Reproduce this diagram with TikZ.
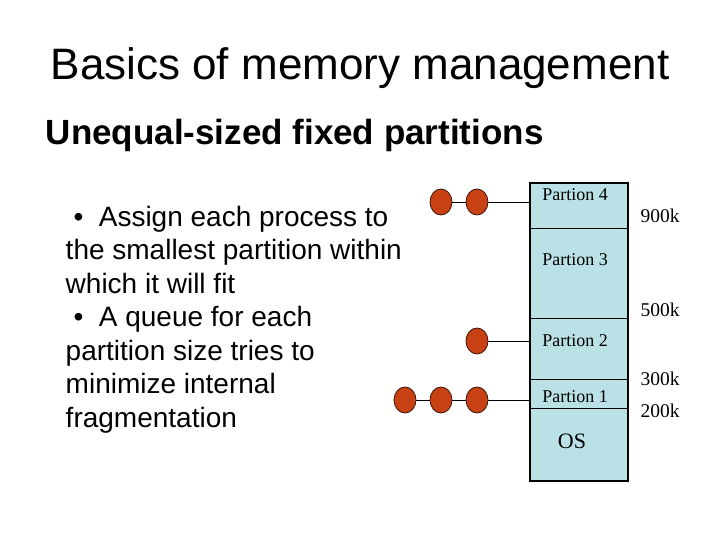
\documentclass[tikz,border=0pt]{standalone}
\usepackage{fontspec}
\setmainfont{Liberation Sans}
\newfontfamily\serif{Liberation Serif}
\usetikzlibrary{positioning,shapes.geometric}
\definecolor{memfill}{RGB}{185,225,230}
\definecolor{procred}{RGB}{200,65,20}

\begin{document}
\begin{tikzpicture}[x=1pt,y=-1pt,thick]
\tikzstyle{proc}=[ellipse,fill=procred,draw=black!70!procred,thick,minimum width=22pt,minimum height=26pt,inner sep=0pt]
\tikzstyle{part}=[font=\serif\fontsize{18}{18}\selectfont]
\tikzstyle{addr}=[font=\serif\fontsize{19.5}{19.5}\selectfont]

\useasboundingbox (0,0) rectangle (720,540);

\node at (360,68) {\fontsize{44}{44}\selectfont Basics of memory management};
\node[anchor=west] at (42,135) {\fontsize{35}{35}\selectfont\bfseries Unequal-sized fixed partitions};
\node[anchor=north west,align=left,font=\fontsize{28}{33.5}\selectfont] at (62,202)
  {\ \textbullet\ \ Assign each process to\\the smallest partition within\\which it will fit\\
   \ \textbullet\ \ A queue for each\\partition size tries to\\minimize internal\\fragmentation};

% memory
\draw[very thick,fill=memfill] (530,183) rectangle (628,481);
\foreach \y in {228,318,379,408} \draw (530,\y) -- (628,\y);
\node[part] (p4) at (575,195) {Partion 4};
\node[part] (p3) at (575,260) {Partion 3};
\node[part] (p2) at (575,341) {Partion 2};
\node[part] (p1) at (575,397) {Partion 1};
\node[font=\serif\fontsize{22}{22}\selectfont] (os) at (572,441) {OS};
\node[addr] at (660,216) {900k};
\node[addr] at (660,310) {500k};
\node[addr] at (660,379) {300k};
\node[addr] at (660,411) {200k};

% queues
\coordinate (q4) at (530,202);
\coordinate (q2) at (530,341);
\coordinate (q1) at (530,400);
\node[proc] (a2) at (477,202) {};
\node[proc] (a1) at (441,202) {};
\draw (a1) -- (a2) -- (q4);
\node[proc] (b1) at (477,341) {};
\draw (b1) -- (q2);
\node[proc] (c3) at (477,400) {};
\node[proc] (c2) at (441,400) {};
\node[proc] (c1) at (405,400) {};
\draw (c1) -- (c2) -- (c3) -- (q1);
\end{tikzpicture}
\end{document}
